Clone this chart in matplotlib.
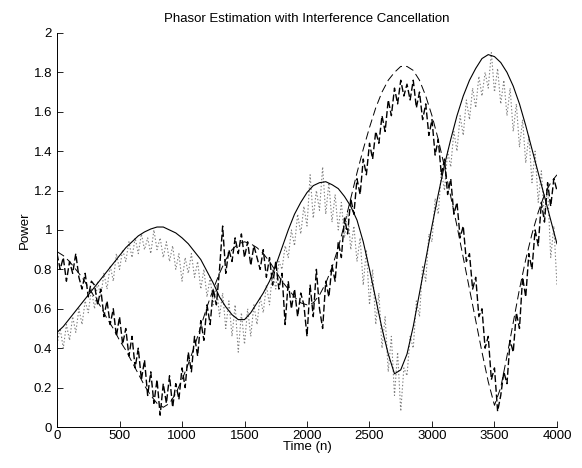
import numpy as np
import matplotlib
matplotlib.use("Agg")
import matplotlib.pyplot as plt

plt.rcParams["font.family"] = ["Liberation Sans", "DejaVu Sans"]
plt.rcParams["lines.scale_dashes"] = False

# ── data ──────────────────────────────────────────────────────────────
# smooth curves, sampled every 50 samples
n_smooth = np.arange(0, 4001, 50)
true_power = [
    0.48, 0.51, 0.55, 0.59, 0.63, 0.67, 0.71, 0.75, 0.79, 0.83,
    0.87, 0.91, 0.94, 0.97, 0.99, 1.005, 1.015, 1.015, 1.00, 0.985,
    0.96, 0.93, 0.89, 0.85, 0.79, 0.73, 0.66, 0.61, 0.57, 0.545,
    0.545, 0.58, 0.63, 0.68, 0.74, 0.82, 0.91, 1.00, 1.08, 1.14,
    1.19, 1.225, 1.24, 1.245, 1.23, 1.21, 1.17, 1.12, 1.05, 0.94,
    0.80, 0.65, 0.50, 0.37, 0.27, 0.29, 0.37, 0.51, 0.68, 0.85,
    1.02, 1.18, 1.33, 1.46, 1.58, 1.68, 1.76, 1.82, 1.87, 1.89,
    1.88, 1.85, 1.80, 1.73, 1.64, 1.53, 1.41, 1.29, 1.17, 1.05,
    0.93,
]
interf_power = [
    0.89, 0.87, 0.84, 0.80, 0.76, 0.71, 0.66, 0.61, 0.55, 0.50,
    0.44, 0.39, 0.33, 0.27, 0.21, 0.16, 0.12, 0.10, 0.12, 0.17,
    0.24, 0.32, 0.41, 0.51, 0.61, 0.70, 0.78, 0.85, 0.90, 0.93,
    0.94, 0.93, 0.91, 0.88, 0.84, 0.79, 0.74, 0.70, 0.66, 0.63,
    0.62, 0.63, 0.67, 0.73, 0.81, 0.91, 1.03, 1.16, 1.29, 1.41,
    1.52, 1.62, 1.70, 1.76, 1.80, 1.83, 1.83, 1.81, 1.76, 1.68,
    1.58, 1.46, 1.32, 1.17, 1.02, 0.86, 0.70, 0.54, 0.38, 0.23,
    0.11, 0.20, 0.36, 0.53, 0.70, 0.85, 0.98, 1.09, 1.18, 1.24,
    1.28,
]

# noisy estimates, sampled every 25 samples
n_noisy = np.arange(0, 4001, 25)
interf_est = [
    0.88, 0.80, 0.86, 0.74, 0.84, 0.78, 0.88, 0.76,
    0.70, 0.78, 0.66, 0.74, 0.72, 0.62, 0.70, 0.56,
    0.64, 0.52, 0.60, 0.46, 0.56, 0.42, 0.50, 0.36,
    0.46, 0.30, 0.40, 0.24, 0.34, 0.16, 0.28, 0.12,
    0.24, 0.06, 0.22, 0.12, 0.26, 0.10, 0.22, 0.14,
    0.30, 0.20, 0.38, 0.28, 0.46, 0.36, 0.54, 0.44,
    0.62, 0.52, 0.70, 0.62, 0.80, 1.02, 0.78, 0.90,
    0.84, 0.96, 0.88, 0.98, 0.86, 0.94, 0.82, 0.92,
    0.86, 0.80, 0.90, 0.76, 0.86, 0.72, 0.84, 0.70,
    0.78, 0.52, 0.74, 0.60, 0.70, 0.56, 0.68, 0.62,
    0.46, 0.72, 0.56, 0.80, 0.60, 0.50, 0.74, 0.66,
    0.82, 0.74, 0.94, 0.86, 1.06, 0.98, 1.16, 1.08,
    1.26, 1.18, 1.36, 1.28, 1.44, 1.36, 1.50, 1.44,
    1.58, 1.50, 1.66, 1.58, 1.72, 1.64, 1.76, 1.68,
    1.74, 1.66, 1.76, 1.62, 1.70, 1.56, 1.64, 1.48,
    1.56, 1.38, 1.46, 1.28, 1.36, 1.18, 1.26, 1.08,
    1.14, 0.96, 1.02, 0.84, 0.88, 0.70, 0.76, 0.56,
    0.60, 0.40, 0.46, 0.24, 0.30, 0.08, 0.16, 0.28,
    0.22, 0.44, 0.38, 0.58, 0.50, 0.76, 0.66, 0.88,
    0.80, 1.00, 0.92, 1.14, 1.04, 1.24, 1.12, 1.26,
    1.20,
]
phasor_est = [
    0.42, 0.50, 0.40, 0.52, 0.44, 0.56, 0.48, 0.60,
    0.52, 0.64, 0.58, 0.70, 0.60, 0.74, 0.66, 0.78,
    0.70, 0.82, 0.74, 0.88, 0.80, 0.90, 0.84, 0.94,
    0.86, 0.96, 0.88, 0.98, 0.90, 0.96, 0.88, 1.00,
    0.90, 0.96, 0.86, 0.94, 0.84, 0.92, 0.80, 0.88,
    0.74, 0.86, 0.78, 0.88, 0.76, 0.84, 0.70, 0.80,
    0.66, 0.76, 0.62, 0.72, 0.56, 0.68, 0.50, 0.64,
    0.46, 0.62, 0.38, 0.58, 0.42, 0.60, 0.46, 0.62,
    0.52, 0.66, 0.58, 0.72, 0.62, 0.80, 0.70, 0.84,
    0.80, 0.92, 0.86, 1.00, 0.92, 1.08, 0.98, 1.12,
    1.02, 1.28, 1.06, 1.20, 1.10, 1.32, 1.08, 1.24,
    1.04, 1.18, 1.00, 1.14, 0.96, 1.10, 0.90, 1.02,
    0.84, 0.96, 0.72, 0.90, 0.62, 0.80, 0.52, 0.68,
    0.40, 0.56, 0.28, 0.46, 0.16, 0.38, 0.08, 0.30,
    0.26, 0.46, 0.40, 0.64, 0.56, 0.82, 0.74, 0.98,
    0.94, 1.16, 1.08, 1.30, 1.20, 1.40, 1.32, 1.50,
    1.40, 1.58, 1.48, 1.66, 1.56, 1.72, 1.62, 1.78,
    1.68, 1.80, 1.72, 1.90, 1.70, 1.82, 1.64, 1.76,
    1.58, 1.72, 1.50, 1.64, 1.42, 1.56, 1.34, 1.48,
    1.24, 1.40, 1.14, 1.30, 1.06, 1.22, 0.86, 1.02,
    0.72,
]

x_ticks = np.arange(0, 4001, 500)
y_ticks = np.arange(0, 2.01, 0.2)

# ── plot ──────────────────────────────────────────────────────────────
fig = plt.figure(figsize=(5.82, 4.68), dpi=100)
ax = fig.add_axes([0.098, 0.0876, 0.859, 0.842])

ax.plot(n_noisy, phasor_est, color="#808080", lw=0.8, dashes=(1, 1.5))
ax.plot(n_smooth, interf_power, color="black", lw=0.7, dashes=(6, 3))
ax.plot(n_noisy, interf_est, color="black", lw=1.0, dashes=(5, 2))
ax.plot(n_smooth, true_power, color="black", lw=0.8)

ax.set_xlim(0, 4000)
ax.set_ylim(0, 2)
ax.set_xticks(x_ticks)
ax.set_yticks(y_ticks)
ax.set_yticklabels([f"{v:g}" for v in np.round(y_ticks, 1)])
ax.tick_params(direction="in", length=4, width=0.6, labelsize=9.5)
ax.tick_params(axis="x", pad=2)
for side in ("top", "right"):
    ax.spines[side].set_visible(False)
for side in ("left", "bottom"):
    ax.spines[side].set_linewidth(0.7)

ax.set_xlabel("Time (n)", fontsize=9.5, labelpad=-0.5)
ax.set_ylabel("Power", fontsize=9.5, labelpad=2)
ax.set_title("Phasor Estimation with Interference Cancellation",
             fontsize=9.5, pad=8)

fig.savefig("out.png", dpi=100)
